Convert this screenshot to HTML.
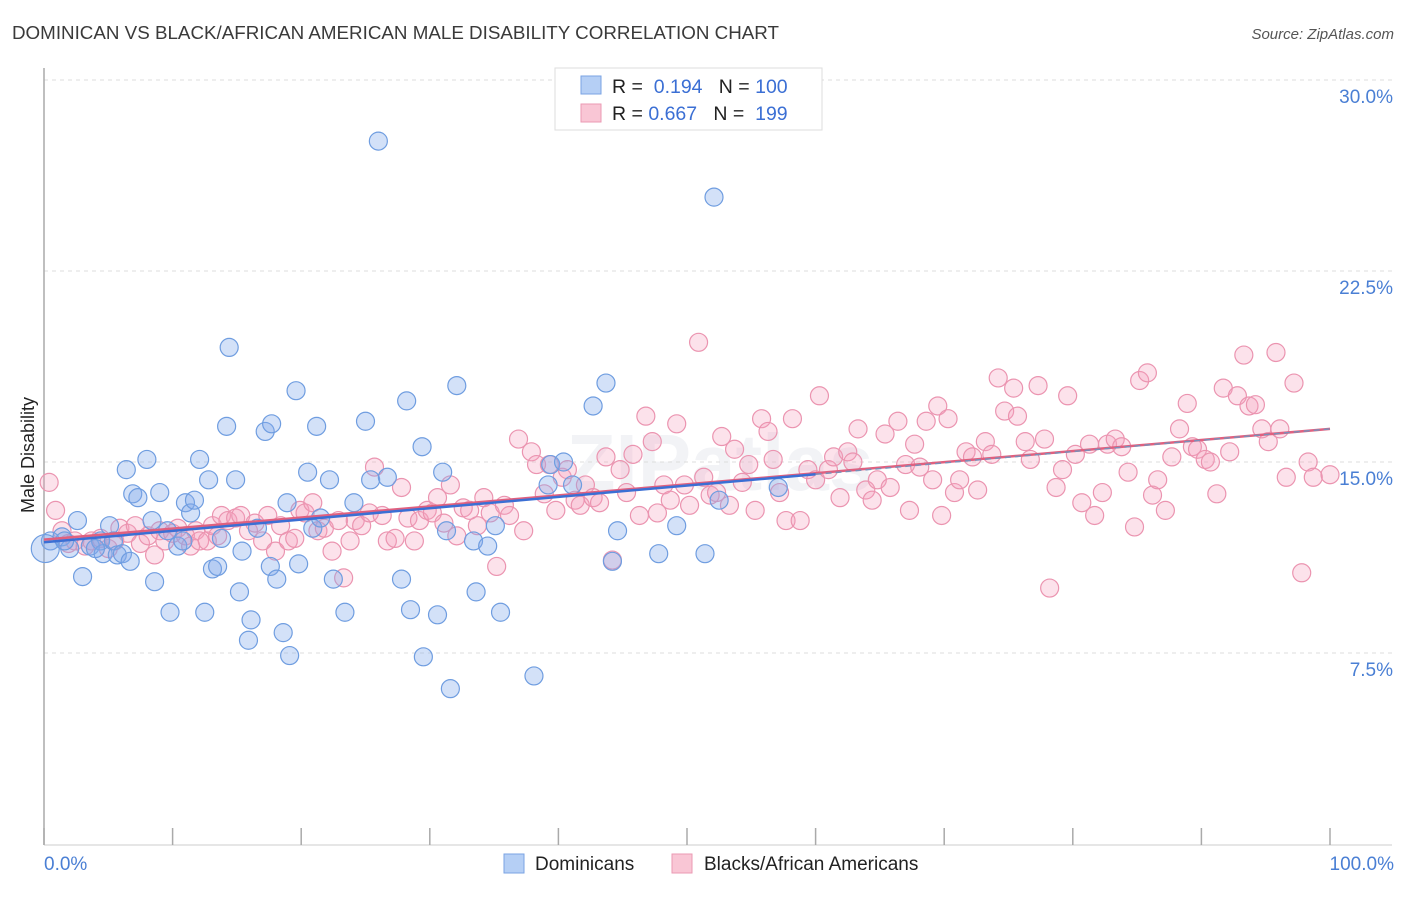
<!DOCTYPE html>
<html><head><meta charset="utf-8"><style>
body{margin:0;background:#fff;font-family:"Liberation Sans",sans-serif}
svg text{font-family:"Liberation Sans",sans-serif}
</style></head><body>
<svg id="chart" width="1406" height="892" xmlns="http://www.w3.org/2000/svg">
<text x="12" y="39" font-size="18" fill="#3a3a3a" textLength="767" lengthAdjust="spacingAndGlyphs">DOMINICAN VS BLACK/AFRICAN AMERICAN MALE DISABILITY CORRELATION CHART</text>
<text x="1394" y="39" font-size="15" fill="#555" text-anchor="end" font-style="italic">Source: ZipAtlas.com</text>
<text x="720" y="490" font-size="80" fill="#e6e9ef" text-anchor="middle" font-weight="bold" opacity="0.5">ZIPatlas</text>
<g id="grid"></g>
<g id="axes"></g>
<g id="pink"></g>
<g id="blue"></g>
<g id="lines"></g>
<text transform="translate(34,455) rotate(-90)" font-size="18" fill="#222" text-anchor="middle">Male Disability</text>
<text x="44" y="870" font-size="19" fill="#4a7fd4">0.0%</text>
<text x="1394" y="870" font-size="19" fill="#4a7fd4" text-anchor="end">100.0%</text>
<g>
<rect x="555" y="68" width="267" height="62" fill="#fff" stroke="#ddd"/>
<rect x="581" y="76" width="20" height="18" fill="#b5cff5" stroke="#7aa3e3"/>
<rect x="581" y="104" width="20" height="18" fill="#f9c6d5" stroke="#eb9ab3"/>
<text x="612" y="93" font-size="19.5" fill="#222">R = <tspan fill="#3b6fd4">&#160;0.194</tspan><tspan fill="#222">&#160;&#160;&#160;N = </tspan><tspan fill="#3b6fd4">100</tspan></text>
<text x="612" y="120" font-size="19.5" fill="#222">R = <tspan fill="#3b6fd4">0.667</tspan><tspan fill="#222">&#160;&#160;&#160;N = </tspan><tspan fill="#3b6fd4">&#160;199</tspan></text>
</g>
<g>
<rect x="504" y="854" width="20" height="19" fill="#b5cff5" stroke="#7aa3e3"/>
<text x="535" y="870" font-size="19" fill="#222">Dominicans</text>
<rect x="672" y="854" width="20" height="19" fill="#f9c6d5" stroke="#eb9ab3"/>
<text x="704" y="870" font-size="19" fill="#222">Blacks/African Americans</text>
</g>
</svg>
<script>
const yTicks=[7.5,15,22.5,30];
const yTickLabels=["7.5%","15.0%","22.5%","30.0%"];
const xTicks=[0,10,20,30,40,50,60,70,80,90,100];
const blueX=[0.5,1.4,2.0,2.6,3.0,3.6,4.4,4.6,5.1,5.4,5.7,6.1,6.4,6.7,6.9,7.3,8.0,8.4,8.6,9.0,9.6,9.8,10.4,10.8,11.0,11.4,11.7,12.1,12.5,12.8,13.1,13.5,13.8,14.2,14.4,14.9,15.2,15.4,15.9,16.1,16.6,17.2,17.6,17.7,18.1,18.6,18.9,19.1,19.6,19.8,20.5,20.9,21.2,21.5,22.2,22.5,23.4,24.1,25.0,25.4,26.0,26.7,27.8,28.2,28.5,29.4,29.5,30.6,31.0,31.3,31.6,32.1,33.4,33.6,34.5,35.1,35.5,38.1,39.2,39.4,40.4,41.1,42.7,43.7,44.2,44.6,47.8,49.2,51.4,52.1,52.5,57.1,0.1,1.6,4.0];
const blueY=[11.9,12.06,11.6,12.7,10.5,11.7,11.9,11.4,12.5,11.9,11.35,11.4,14.7,11.1,13.75,13.6,15.1,12.7,10.3,13.8,12.3,9.1,11.7,11.9,13.4,13.0,13.5,15.1,9.1,14.3,10.8,10.9,12.0,16.4,19.5,14.3,9.9,11.5,8.0,8.8,12.4,16.2,10.9,16.5,10.4,8.3,13.4,7.4,17.8,11.0,14.6,12.4,16.4,12.8,14.3,10.4,9.1,13.4,16.6,14.3,27.6,14.4,10.4,17.4,9.2,15.6,7.35,9.0,14.6,12.3,6.1,18.0,11.9,9.9,11.7,12.5,9.1,6.6,14.1,14.9,15.0,14.1,17.2,18.1,11.1,12.3,11.4,12.5,11.4,25.4,13.5,14.0,11.6,11.9,11.6];
const pinkX=[0.4,0.9,1.4,1.9,2.4,3.2,3.7,4.4,5.0,5.5,5.9,6.5,7.1,7.5,8.1,8.6,9.0,9.4,10.0,10.4,11.0,11.4,11.8,12.1,12.7,13.1,13.5,13.8,14.3,14.9,15.3,15.9,16.4,17.0,17.4,18.0,18.4,19.0,19.5,19.9,20.3,20.9,21.3,21.8,22.4,22.9,23.3,23.8,24.2,24.7,25.3,25.7,26.3,26.7,27.3,27.8,28.3,28.8,29.2,29.8,30.2,30.6,31.1,31.6,32.1,32.6,33.1,33.7,34.2,34.7,35.2,35.8,36.2,36.9,37.3,37.9,38.3,38.9,39.3,39.8,40.3,40.7,41.3,41.7,42.1,42.7,43.2,43.7,44.2,44.8,45.3,45.8,46.3,46.8,47.3,47.7,48.2,48.7,49.2,49.8,50.2,50.9,51.3,51.8,52.3,52.7,53.3,53.7,54.3,54.8,55.3,55.8,56.3,56.7,57.2,57.7,58.2,58.8,59.4,60.0,60.3,61.0,61.4,61.9,62.5,62.9,63.3,63.9,64.4,64.8,65.4,65.8,66.4,67.0,67.3,67.7,68.1,68.6,69.1,69.5,69.8,70.3,70.8,71.2,71.7,72.2,72.6,73.2,73.7,74.2,74.7,75.4,75.7,76.3,76.7,77.3,77.8,78.2,78.7,79.2,79.6,80.2,80.7,81.3,81.7,82.3,82.7,83.3,83.8,84.3,84.8,85.2,85.8,86.2,86.6,87.2,87.7,88.3,88.9,89.3,89.7,90.3,90.7,91.2,91.7,92.2,92.8,93.3,93.7,94.2,94.7,95.2,95.8,96.1,96.6,97.2,97.8,98.3,98.7,100];
const pinkY=[14.2,13.1,12.3,11.8,11.9,11.7,11.9,12.0,11.6,11.9,12.4,12.2,12.5,11.8,12.1,11.35,12.3,11.9,12.2,12.4,12.1,11.7,12.3,11.9,11.9,12.5,12.1,12.9,12.7,12.8,12.9,12.3,12.6,11.9,12.9,11.5,12.5,11.9,12.0,13.1,13.0,13.4,12.3,12.4,11.5,12.7,10.45,11.9,12.7,12.5,13.0,14.8,12.9,11.9,12.0,14.0,12.8,11.9,12.7,13.1,13.0,13.6,12.6,14.1,12.1,13.2,13.1,12.5,13.6,13.0,10.9,13.3,12.9,15.9,12.3,15.4,14.9,13.75,14.9,13.1,14.4,14.7,13.5,13.3,14.1,13.6,13.4,15.2,11.15,14.7,13.8,15.3,12.9,16.8,15.8,13.0,14.1,13.5,16.5,14.1,13.3,19.7,14.4,13.7,13.8,16.0,13.3,15.5,14.2,14.9,13.1,16.7,16.2,15.1,13.8,12.7,16.7,12.7,14.7,14.3,17.6,14.7,15.2,13.6,15.4,15.0,16.3,13.9,13.5,14.3,16.1,14.0,16.6,14.9,13.1,15.7,14.8,16.6,14.3,17.2,12.9,16.7,13.8,14.3,15.4,15.2,13.9,15.8,15.3,18.3,17.0,17.9,16.8,15.8,15.1,18.0,15.9,10.05,14.0,14.7,17.6,15.3,13.4,15.7,12.9,13.8,15.7,15.9,15.6,14.6,12.45,18.2,18.5,13.7,14.3,13.1,15.2,16.3,17.3,15.6,15.5,15.1,15.0,13.75,17.9,15.4,17.6,19.2,17.2,17.25,16.3,15.8,19.3,16.3,14.4,18.1,10.65,15.0,14.4,14.5];
const blueTrend=[11.85,16.3];
const pinkTrend=[11.95,16.3];
const NS="http://www.w3.org/2000/svg";
const X0=44,X1=1330,Y0=844,PY30=80;
function sx(v){return X0+(X1-X0)*v/100;}
function sy(v){return Y0-(Y0-PY30)*v/30;}
function mk(tag,attrs,parent){const e=document.createElementNS(NS,tag);for(const k in attrs)e.setAttribute(k,attrs[k]);parent.appendChild(e);return e;}
const grid=document.getElementById('grid'),axes=document.getElementById('axes');
yTicks.forEach((t,i)=>{
  const l=mk('line',{x1:X0,x2:1392,y1:sy(t),y2:sy(t),stroke:'#dcdcdc','stroke-dasharray':'4,4'},grid);
  
  
  const tx=mk('text',{x:1393,y:sy(t)+23,'font-size':19,fill:'#4a7fd4','text-anchor':'end'},grid);
  tx.textContent=yTickLabels[i];
  
  
});
const ya=mk('line',{x1:X0,x2:X0,y1:68,y2:Y0+1,stroke:'#aaa','stroke-width':1.5},axes);


const xa=mk('line',{x1:X0,x2:1392,y1:Y0+1,y2:Y0+1,stroke:'#ccc'},axes);


xTicks.forEach(t=>{
  const k=mk('line',{x1:sx(t),x2:sx(t),y1:828,y2:Y0+1,stroke:'#aaa','stroke-width':1.5},axes);
  
  
});
const pg=document.getElementById('pink');
pinkX.forEach((x,i)=>{
  const c=mk('circle',{cx:sx(x),cy:sy(pinkY[i]),r:9,fill:'rgba(244,160,188,0.3)',stroke:'#eb94b0','stroke-width':1.2},pg);
  
  
});
const bg=document.getElementById('blue');
blueX.forEach((x,i)=>{
  const c=mk('circle',{cx:sx(x),cy:sy(blueY[i]),r:(i==blueX.length-3)?14:9,fill:'rgba(130,170,235,0.35)',stroke:'#6f9de0','stroke-width':1.2},bg);
  
  
});
const lg=document.getElementById('lines');
function ty(tr,x){return tr[0]+(tr[1]-tr[0])*x/100;}
const pl=mk('line',{x1:sx(0),y1:sy(ty(pinkTrend,0)),x2:sx(100),y2:sy(ty(pinkTrend,100)),stroke:'#e0607f','stroke-width':2.5},lg);


const bl=mk('line',{x1:sx(0),y1:sy(ty(blueTrend,0)),x2:sx(60),y2:sy(ty(blueTrend,60)),stroke:'#3b6fd4','stroke-width':2.5},lg);


const bd=mk('line',{x1:sx(60),y1:sy(ty(blueTrend,60)),x2:sx(100),y2:sy(ty(blueTrend,100)),stroke:'#7a8fb8','stroke-width':1.5,'stroke-dasharray':'6,4'},lg);


</script>
</body></html>
